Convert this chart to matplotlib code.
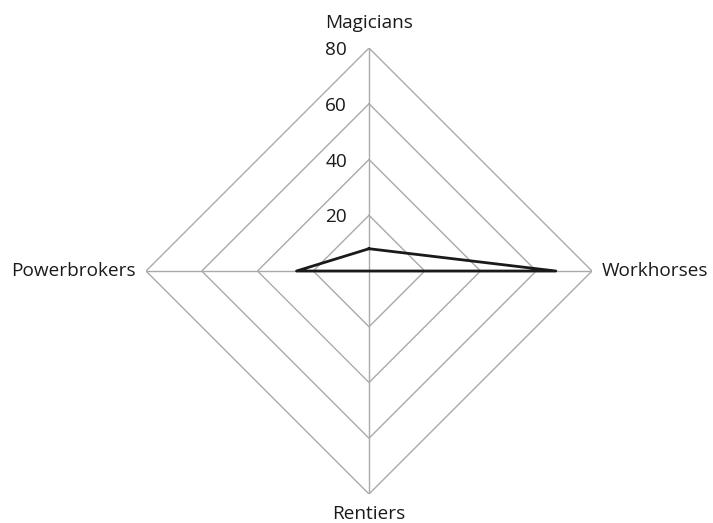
import numpy as np
import matplotlib.pyplot as plt
import matplotlib.transforms as mtransforms

plt.rcParams['font.family'] = ['Open Sans', 'DejaVu Sans']

categories = ["Magicians", "Workhorses", "Rentiers", "Powerbrokers"]
values = [8, 67, 0, 26]
rings = [20, 40, 60, 80]

angles = np.linspace(0, 2 * np.pi, len(categories), endpoint=False)
closed_angles = np.append(angles, angles[0])

fig = plt.figure(figsize=(7.13, 5.23), dpi=100)
ax = fig.add_axes([0.2048, 0.0554, 0.6255, 0.8528], projection='polar')
ax.set_theta_offset(np.pi / 2)
ax.set_theta_direction(-1)
ax.set_ylim(0, 80)
ax.axis('off')

grid_color = '#aaaaaa'
# diamond rings
for r in rings:
    ax.plot(closed_angles, [r] * len(closed_angles), color=grid_color, lw=1.0, zorder=1)
# spokes
for a in angles:
    ax.plot([a, a], [0, 80], color=grid_color, lw=1.0, zorder=1)

# data
ax.plot(closed_angles, values + [values[0]], color='#1a1a1a', lw=2.0, zorder=3)

fs = 13.7
# ring labels along top axis
off = mtransforms.offset_copy(ax.transData, fig=fig, x=-22, y=-2, units='dots')
for r in rings:
    ax.text(0, r, str(r), transform=off, ha='right', va='center', fontsize=fs, color='#1a1a1a')

# category labels
label_pad = {
    "Magicians": (0, 20, 'center', 'baseline'),
    "Workhorses": (10, 0, 'left', 'center'),
    "Rentiers": (0, -11, 'center', 'top'),
    "Powerbrokers": (-10, 0, 'right', 'center'),
}
for a, name in zip(angles, categories):
    dx, dy, ha, va = label_pad[name]
    tr = mtransforms.offset_copy(ax.transData, fig=fig, x=dx, y=dy, units='dots')
    ax.text(a, 80, name, transform=tr, ha=ha, va=va, fontsize=fs, color='#1a1a1a')

fig.savefig('out.png', dpi=100)
